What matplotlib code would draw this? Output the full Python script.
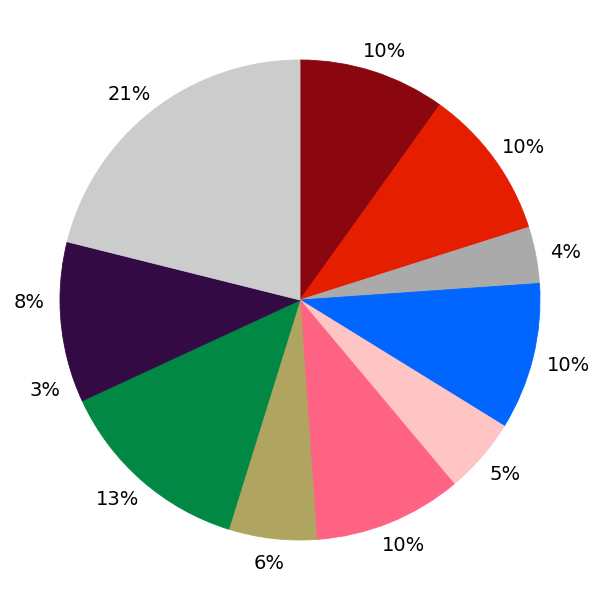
import matplotlib
matplotlib.use("Agg")
import matplotlib.pyplot as plt
import numpy as np

values = [9.9, 10.2, 3.8, 9.9, 5.1, 10.0, 5.9, 13.3, 2.9, 7.9, 21.1]
colors = ["#8B0710", "#E61E00", "#AAAAAA", "#0066FF", "#FFC4C4", "#FF6384",
          "#AFA560", "#008844", "#330A44", "#330A44", "#CCCCCC"]

fig, ax = plt.subplots(figsize=(6, 6), dpi=100)
fig.subplots_adjust(left=0, right=1, bottom=0, top=1)
wedges, texts, autotexts = ax.pie(values, colors=colors, startangle=90, counterclock=False,
       autopct="%1.0f%%", pctdistance=1.1, radius=0.8,
       textprops={"fontsize": 14, "color": "black"},
       wedgeprops={"linewidth": 0.6})
for w in wedges:
    w.set_edgecolor(w.get_facecolor())
ax.set_xlim(-1, 1)
ax.set_ylim(-1, 1)
ax.set_aspect("equal")

# place labels just outside the pie, pushed outward by the label box size
fig.canvas.draw()
renderer = fig.canvas.get_renderer()
px = 300.0  # pixels per data unit
base = 255.0 / px
for w, t in zip(wedges, autotexts):
    th = np.deg2rad((w.theta1 + w.theta2) / 2.0)
    bb = t.get_window_extent(renderer)
    hw = bb.width / 2.0 / px
    hh = 8.0 / px
    x = base * np.cos(th) + np.cos(th) * hw
    y = base * np.sin(th) + np.sin(th) * hh
    t.set_position((x, y))
    t.set_verticalalignment("center_baseline")

fig.savefig("out.png")
